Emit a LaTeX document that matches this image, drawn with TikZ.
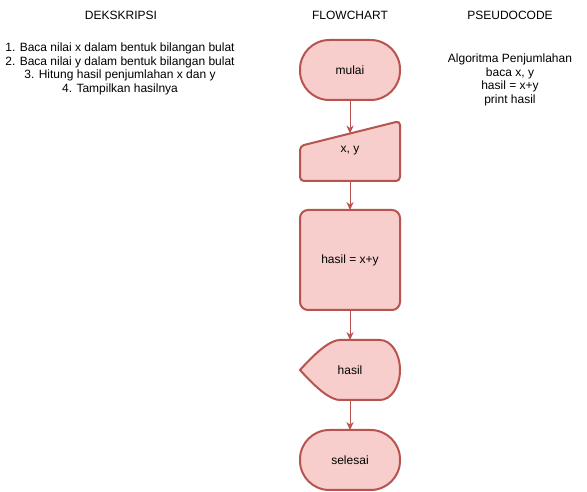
\documentclass[tikz,border=0pt]{standalone}
\usepackage{fontspec}
\setmainfont{Liberation Sans}
\usetikzlibrary{positioning,arrows.meta,calc,backgrounds}
\definecolor{redfill}{HTML}{F8CECC}
\definecolor{redline}{HTML}{B85450}

\begin{document}
\begin{tikzpicture}[
x = 0.75pt, y = -0.75pt,
font = \fontsize{9}{10.3}\selectfont,
every node/.append style={outer sep = 0pt},
headtext/.style={align = center},
terminal/.style={rectangle, align = center, 
draw = redline, 
fill = redfill, line width = 1.5pt, minimum width = 75pt, minimum height = 45pt, rounded corners = 22pt},
shapebox/.style={rectangle, align = center, minimum width = 75pt, minimum height = 45pt},
procbox/.style={rectangle, align = center, 
draw = redline, 
fill = redfill, line width = 1.5pt, minimum width = 75pt, minimum height = 75pt, rounded corners = 6pt},
shapeline/.style={draw = redline, fill = redfill, line width = 1.5pt},
flowarr/.style={-{Stealth[length = 6pt, width = 5.5pt]}, draw = redline, line width = 0.75pt},
node distance = 22.5pt]

\useasboundingbox (0,0) rectangle (587,492);

% kolom judul
\node[headtext] (desk) at (121,15) {DEKSKRIPSI};
\node[headtext] (flow) at (350,15) {FLOWCHART};
\node[headtext] (pseu) at (510,15) {PSEUDOCODE};

\node[headtext] (desklist) at (120,69) {1. Baca nilai x dalam bentuk bilangan bulat\\2. Baca nilai y dalam bentuk bilangan bulat\\3. Hitung hasil penjumlahan x dan y\\4. Tampilkan hasilnya};
\node[headtext] (pseulist) at (510,80) {Algoritma Penjumlahan\\baca x, y\\hasil = x+y\\print hasil};

% flowchart
\node[terminal] (mulai) at (350,70) {mulai};
\node[shapebox, below = 15.75pt of mulai] (input) {x, y};
\node[procbox, below = 21.75pt of input] (hasil) {hasil = x+y};
\node[shapebox, below = of hasil] (tampil) {hasil};
\node[terminal, below = of tampil] (selesai) {selesai};

\begin{pgfonlayer}{background}
\draw[shapeline, rounded corners = 3pt] ($(input.north west)+(0,25)$) -- (input.north east) -- (input.south east) -- (input.south west) -- cycle;
\draw[shapeline] (tampil.west) .. controls ($(tampil.west)+(18,-20)$) and ($(tampil.north west)+(31,0)$) .. ($(tampil.north west)+(40,0)$) -- ($(tampil.north east)+(-20,0)$) .. controls ($(tampil.north east)+(-9,0)$) and ($(tampil.east)+(0,-16.6)$) .. (tampil.east) .. controls ($(tampil.east)+(0,16.6)$) and ($(tampil.south east)+(-9,0)$) .. ($(tampil.south east)+(-20,0)$) -- ($(tampil.south west)+(40,0)$) .. controls ($(tampil.south west)+(31,0)$) and ($(tampil.west)+(18,20)$) .. (tampil.west) -- cycle;
\end{pgfonlayer}

\coordinate (inputtop) at ($(input.north)+(0,12.5)$);
\draw[flowarr] (mulai) -- (inputtop);
\draw[flowarr] (input) -- (hasil);
\draw[flowarr] (hasil) -- (tampil);
\draw[flowarr] (tampil) -- (selesai);

\end{tikzpicture}
\end{document}
